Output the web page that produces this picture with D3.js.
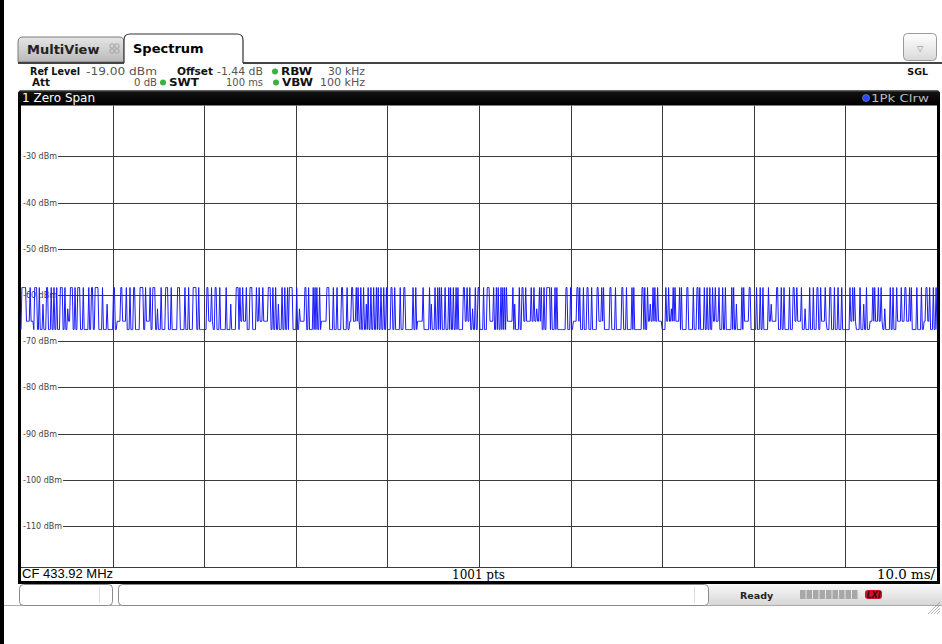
<!DOCTYPE html>
<html>
<head>
<meta charset="utf-8">
<script src="https://cdn.jsdelivr.net/npm/d3@7"></script>
<style>
  body { margin: 0; background: #fff; }
  svg { display: block; }
</style>
</head>
<body>
<div id="chart"></div>
<script>
// ---------- data ----------
const timeDomain = [0, 100];                 // ms, 10 ms/div
const levelDomain = [-119, -19];             // dBm, ref level -19 dBm
const xTicks = [10, 20, 30, 40, 50, 60, 70, 80, 90];
const yTicks = [-30, -40, -50, -60, -70, -80, -90, -100, -110];

const topLevel = -58.4;     // pulse "on" level
const floorLow = -67.5;     // noise floor
const floorMid = -65.7;     // slightly raised floor between some bursts

// pulses: [start ms, width ms, optional peak dBm]
const pulses = [
  [0.1,.5],[1.0,.1],[1.5,.3],[2.0,.1],[2.4,.1,-62],[2.8,.2],[3.3,.1],[3.6,.1],[3.9,.1],[4.3,.3],
  [4.8,.1],[5.1,.1,-63],[5.4,.3],[5.9,.1],[6.2,.3],[6.8,.1],[7.4,.1],[7.7,.2],[8.1,.4],[8.9,.1],
  [9.4,.1,-62],[10.1,.2],[10.9,.2],[11.5,.1],[11.9,.1],[12.3,.2],[13.0,.4],[13.6,.1],[14.1,.1],[14.4,.3],
  [14.9,.1,-63],[15.3,.1],[15.8,.3],[16.4,.1],[17.1,.3],[17.9,.1],[18.3,.1],[18.8,.4],[19.4,.1],[20.3,.2],
  [20.8,.1],[21.2,.2],[21.7,.1],[22.4,.1],[22.9,.1,-62],[23.5,.3],[23.9,.1],[24.2,.1],[24.6,.1],
  [25.0,.3],[25.7,.1],[26.0,.1],[26.4,.1],[27.0,.3],[27.5,.1],[27.8,.1],[28.1,.1,-62],[28.5,.1],[28.8,.1],
  [29.1,.1],[29.3,.4],[30.1,.1],[30.4,.1,-63],[31.0,.2],[31.4,.1],[31.9,.1],[32.1,.1],[32.3,.1],[32.6,.1],
  [33.4,.3],[34.1,.1],[34.5,.1],[35.0,.2],[35.6,.1],[36.1,.2],[36.6,.1],[36.8,.1],[37.1,.1],[37.4,.1],
  [37.7,.1,-62],[37.9,.1],[38.2,.1],[38.5,.1],[38.8,.1],[39.0,.1],[39.3,.1],[39.6,.1],[39.9,.1],[40.4,.2],
  [40.8,.1],[41.4,.1],[41.8,.2],[42.8,.1],[43.1,.1],[43.9,.1],[44.6,.1],[44.8,.1,-62],[45.2,.1],[45.5,.1],
  [45.7,.1],[45.9,.1],[46.3,.1],[46.7,.1],[46.9,.1],[47.2,.1],[47.5,.1],[47.7,.1],[48.3,.2],[48.7,.1],
  [49.0,.1],[49.3,.1,-63],[49.6,.1],[49.9,.2],
  [50.5,.1],[50.9,.3],[51.6,.1],[51.9,.1],[52.1,.1],[52.4,.1],[52.6,.1],[52.8,.1],[53.0,.1],[53.7,.1],
  [53.9,.1,-62],[54.4,.1],[54.7,.2],[55.1,.1],[55.7,.1],[56.0,.1],[56.3,.1,-63],[56.6,.1],[56.8,.1],[57.1,.1],
  [57.4,.4],[57.9,.1],[58.3,.1],[58.5,.1],[59.5,.2],[60.0,.1],[60.7,.2],[61.0,.1],[61.4,.1],[61.8,.2],
  [62.3,.1],[62.9,.2],[63.4,.1],[63.6,.1],[64.3,.2],[64.9,.1],[65.6,.2],[66.1,.1],[66.7,.1],[66.9,.1],
  [67.8,.2],[68.1,.1],[68.4,.1],[68.7,.1,-62],[69.0,.1],[69.2,.1],[69.5,.1],[70.4,.1],[70.7,.1],[71.0,.1,-63],
  [71.2,.1],[71.4,.1],[71.9,.1],[72.1,.1],[72.7,.2],[73.4,.1],[73.8,.2],[74.1,.1],[74.6,.1],[74.9,.1],
  [75.2,.1],[75.5,.1],[75.8,.1],[76.2,.1],[76.6,.1],[76.9,.1],[77.6,.1],[77.8,.1],[78.1,.1,-62],[78.7,.1],
  [78.9,.1],[79.5,.2],[80.3,.1],[80.7,.1],[81.0,.1],[81.6,.1],[81.9,.1,-62],[82.5,.2],[83.0,.1],[83.3,.1],
  [83.9,.1],[84.3,.2],[84.7,.1],[85.2,.1],[85.6,.1,-63],[86.1,.1],[86.5,.1],[86.9,.2],[87.3,.1],[87.8,.1],
  [88.3,.2],[88.8,.1],[89.2,.1],[89.6,.1],[90.5,.1],[90.8,.1],[91.0,.1],[91.6,.1],[92.0,.1,-62],[92.3,.1],
  [93.0,.1],[93.2,.1],[93.6,.1],[93.9,.1],[94.3,.1,-63],[94.9,.1],[95.2,.1],[95.6,.1],[96.1,.1],[96.5,.2],
  [97.0,.1],[97.2,.1],[97.8,.1],[98.3,.1],[98.8,.2],[99.2,.1],[99.6,.1],[99.9,.1]
];

// stretches where the floor sits at floorMid: [from ms, to ms]
const midFloorSegments = [
  [0.6,1.4],[5.1,5.6],[10.5,11.5],[13.6,14.1],[20.5,21.0],[23.9,24.6],[25.7,27.0],[30.4,31.0],
  [32.8,33.4],[35.9,37.0],[43.3,43.9],[48.3,49.0],[51.0,51.6],[53.0,53.7],[54.9,56.8],[60.3,61.0],
  [62.9,63.6],[68.5,70.0],[70.5,71.9],[75.6,76.2],[78.9,79.7],[81.6,82.5],[84.3,85.3],[87.3,88.0],
  [90.5,91.2],[92.7,94.1],[95.6,97.2],[98.6,99.3]
];

const sweepPoints = 1001;

// ---------- layout ----------
const W = 942, H = 644;
const plot = { x0: 21, x1: 937, y0: 105.5, y1: 567.5 };
const sans = "'DejaVu Sans', Verdana, sans-serif";

const svg = d3.select("#chart").append("svg").attr("width", W).attr("height", H);
const defs = svg.append("defs");

function vgrad(id, stops) {
  const g = defs.append("linearGradient").attr("id", id).attr("x1", 0).attr("y1", 0).attr("x2", 0).attr("y2", 1);
  stops.forEach(([o, c]) => g.append("stop").attr("offset", o).attr("stop-color", c));
}
vgrad("tabGray", [[0, "#e6e6e6"], [1, "#b9b9b9"]]);
vgrad("btnGrad", [[0, "#ffffff"], [1, "#d9d9d9"]]);
vgrad("statusGrad", [[0, "#fafafa"], [1, "#d6d6d6"]]);
vgrad("headGrad", [[0, "#777"], [0.15, "#111"], [1, "#000"]]);

// left edge of the screen bezel
svg.append("rect").attr("x", 0).attr("y", 0).attr("width", 4).attr("height", H).attr("fill", "#000");

// ---------- tabs ----------
svg.append("path")
  .attr("d", "M18,62 L18,42 Q18,37 23,37 L119,37 Q124,37 124,42 L124,62 Z")
  .attr("fill", "url(#tabGray)").attr("stroke", "#7a7a7a");
svg.append("text").attr("x", 27).attr("y", 54).attr("font-family", sans).attr("font-weight", "bold")
  .attr("font-size", 13).attr("fill", "#222").text("MultiView");
// small tile icon
const icon = svg.append("g").attr("fill", "none").attr("stroke", "#999").attr("stroke-width", 0.8);
[[110, 44], [115, 44], [110, 49], [115, 49]].forEach(([x, y]) =>
  icon.append("rect").attr("x", x).attr("y", y).attr("width", 4).attr("height", 4).attr("rx", 1));

svg.append("path")
  .attr("d", "M124,63 L124,40 Q124,34 130,34 L237,34 Q243,34 243,40 L243,63")
  .attr("fill", "#fff").attr("stroke", "#333").attr("stroke-width", 1.2);
svg.append("text").attr("x", 133).attr("y", 53).attr("font-family", sans).attr("font-weight", "bold")
  .attr("font-size", 13).attr("fill", "#000").text("Spectrum");

svg.append("line").attr("x1", 243).attr("x2", 942).attr("y1", 63).attr("y2", 63)
  .attr("stroke", "#444").attr("stroke-width", 2);
svg.append("line").attr("x1", 18).attr("x2", 124).attr("y1", 63).attr("y2", 63)
  .attr("stroke", "#444").attr("stroke-width", 2);

// dropdown button + SGL
svg.append("rect").attr("x", 903.5).attr("y", 33.5).attr("width", 33).attr("height", 27).attr("rx", 4)
  .attr("fill", "url(#btnGrad)").attr("stroke", "#9a9a9a");
svg.append("text").attr("x", 920).attr("y", 51).attr("text-anchor", "middle").attr("font-family", sans)
  .attr("font-size", 8).attr("fill", "#888").text("\u25BD");
svg.append("text").attr("x", 928).attr("y", 75).attr("text-anchor", "end").attr("font-family", sans)
  .attr("font-weight", "bold").attr("font-size", 9.5).attr("fill", "#111").text("SGL");

// ---------- settings lines ----------
const info = [
  { x: 30, y: 75, t: "Ref Level", b: true, len: 50 },
  { x: 86, y: 75, t: "-19.00 dBm", len: 71 },
  { x: 177, y: 75, t: "Offset", b: true, len: 36 },
  { x: 217, y: 75, t: "-1.44 dB", len: 46 },
  { x: 281, y: 75, t: "RBW", b: true, dot: 275, len: 31 },
  { x: 328, y: 75, t: "30 kHz", len: 37 },
  { x: 32, y: 86, t: "Att", b: true, len: 18 },
  { x: 134, y: 86, t: "0 dB", len: 23 },
  { x: 169, y: 86, t: "SWT", b: true, dot: 163, len: 30 },
  { x: 226, y: 86, t: "100 ms", len: 37 },
  { x: 282, y: 86, t: "VBW", b: true, dot: 276, len: 31 },
  { x: 320, y: 86, t: "100 kHz", len: 45 }
];
info.forEach(d => {
  svg.append("text").attr("x", d.x).attr("y", d.y)
    .attr("font-family", sans).attr("font-size", 10)
    .attr("font-weight", d.b ? "bold" : "normal")
    .attr("textLength", d.len).attr("lengthAdjust", "spacingAndGlyphs")
    .attr("fill", d.b ? "#111" : "#555").text(d.t);
  if (d.dot) svg.append("circle").attr("cx", d.dot).attr("cy", d.y - 3.5).attr("r", 3).attr("fill", "#3cb043");
});

// ---------- diagram frame ----------
svg.append("path")
  .attr("d", "M18,584 L18,95 Q18,90 23,90 L935,90 Q940,90 940,95 L940,584 Z")
  .attr("fill", "#000");
svg.append("rect").attr("x", 18).attr("y", 90).attr("width", 922).attr("height", 15)
  .attr("rx", 4).attr("fill", "url(#headGrad)");
svg.append("rect").attr("x", plot.x0).attr("y", plot.y0).attr("width", plot.x1 - plot.x0)
  .attr("height", 581 - plot.y0).attr("fill", "#fff");

svg.append("text").attr("x", 22).attr("y", 102).attr("font-family", sans).attr("font-size", 12)
  .attr("fill", "#fff").text("1 Zero Span");
svg.append("circle").attr("cx", 866).attr("cy", 98).attr("r", 3.5).attr("fill", "#2b46ff").attr("stroke", "#9ab").attr("stroke-width", 0.5);
svg.append("text").attr("x", 871).attr("y", 102).attr("font-family", sans)
  .attr("font-size", 11).attr("textLength", 58).attr("lengthAdjust", "spacingAndGlyphs")
  .attr("fill", "#bbb").text("1Pk Clrw");

// ---------- scales & grid ----------
const x = d3.scaleLinear().domain(timeDomain).range([plot.x0, plot.x1]);
const y = d3.scaleLinear().domain(levelDomain).range([plot.y1, plot.y0]);

const labels = svg.append("g").selectAll("text").data(yTicks).enter().append("text")
  .attr("x", 23).attr("y", d => Math.round(y(d)) + 3)
  .attr("font-family", sans).attr("font-size", 8).attr("fill", "#444")
  .text(d => d + " dBm");
const labelEnd = new Map();
labels.each(function (d) { labelEnd.set(d, 23 + this.getComputedTextLength() + 1); });

const grid = svg.append("g").attr("stroke", "#3a3a3a").attr("stroke-width", 1);
grid.selectAll("line.v").data(xTicks).enter().append("line")
  .attr("x1", d => Math.round(x(d)) + 0.5).attr("x2", d => Math.round(x(d)) + 0.5)
  .attr("y1", plot.y0).attr("y2", plot.y1);
grid.selectAll("line.h").data(yTicks).enter().append("line")
  .attr("x1", d => labelEnd.get(d)).attr("x2", plot.x1)
  .attr("y1", d => Math.round(y(d)) + 0.5).attr("y2", d => Math.round(y(d)) + 0.5);
svg.append("line").attr("x1", plot.x0).attr("x2", plot.x1).attr("y1", plot.y1).attr("y2", plot.y1)
  .attr("stroke", "#3a3a3a");

// ---------- trace ----------
const inMid = t => midFloorSegments.some(([a, b]) => t >= a && t < b);
const trace = d3.range(sweepPoints).map(i => {
  const t = i / 10;
  let v = inMid(t) ? floorMid : floorLow;
  pulses.forEach(([t0, w, lvl]) => {
    if (t >= t0 - 1e-6 && t < t0 + w - 1e-6) v = (lvl == null ? topLevel : lvl);
  });
  return [t, v];
});

svg.append("path")
  .attr("d", d3.line().x(d => x(d[0])).y(d => y(d[1]))(trace))
  .attr("fill", "none").attr("stroke", "#1a1aff").attr("stroke-width", 1);

// ---------- footer of diagram ----------
svg.append("text").attr("x", 22).attr("y", 578).attr("font-family", "'Liberation Sans', Arial, sans-serif")
  .attr("font-size", 13).attr("fill", "#000").text("CF 433.92 MHz");
svg.append("text").attr("x", 452).attr("y", 579)
  .attr("font-family", "'DejaVu Serif', serif").attr("font-size", 12.5)
  .attr("textLength", 53).attr("lengthAdjust", "spacingAndGlyphs").attr("fill", "#000").text("1001 pts");
svg.append("text").attr("x", 877).attr("y", 579)
  .attr("font-family", "'DejaVu Serif', serif").attr("font-size", 12.5)
  .attr("textLength", 58).attr("lengthAdjust", "spacingAndGlyphs").attr("fill", "#000").text("10.0 ms/");

// ---------- status bar ----------
svg.append("line").attr("x1", 4).attr("x2", W).attr("y1", 605.5).attr("y2", 605.5).attr("stroke", "#aaa");
svg.append("rect").attr("x", 709).attr("y", 584).attr("width", W - 709).attr("height", 21).attr("fill", "url(#statusGrad)");
svg.append("rect").attr("x", 19.5).attr("y", 584.5).attr("width", 93).attr("height", 21).attr("rx", 4)
  .attr("fill", "#fff").attr("stroke", "#8a8a8a");
svg.append("line").attr("x1", 99.5).attr("x2", 99.5).attr("y1", 587).attr("y2", 603).attr("stroke", "#ddd");
svg.append("rect").attr("x", 118.5).attr("y", 584.5).attr("width", 590).attr("height", 21).attr("rx", 4)
  .attr("fill", "#fff").attr("stroke", "#8a8a8a");
svg.append("line").attr("x1", 694.5).attr("x2", 694.5).attr("y1", 587).attr("y2", 603).attr("stroke", "#ddd");
svg.append("text").attr("x", 740).attr("y", 599).attr("font-family", sans).attr("font-weight", "bold")
  .attr("font-size", 9.5).attr("fill", "#222").text("Ready");
d3.range(9).forEach(i => svg.append("rect").attr("x", 800 + i * 6.5).attr("y", 590).attr("width", 5.5)
  .attr("height", 9).attr("fill", "#a8a8a8"));
svg.append("rect").attr("x", 865).attr("y", 590).attr("width", 17).attr("height", 9).attr("rx", 3).attr("fill", "#d0102a");
svg.append("text").attr("x", 866.5).attr("y", 598).attr("font-family", sans).attr("font-weight", "bold")
  .attr("font-style", "italic").attr("font-size", 8).attr("fill", "#3a0a10").text("LXI");
d3.range(5).forEach(i => svg.append("line").attr("x1", 928 + i * 3).attr("y1", 614).attr("x2", 940).attr("y2", 602 + i * 3)
  .attr("stroke", "#999").attr("stroke-width", 0.7));
</script>
</body>
</html>
